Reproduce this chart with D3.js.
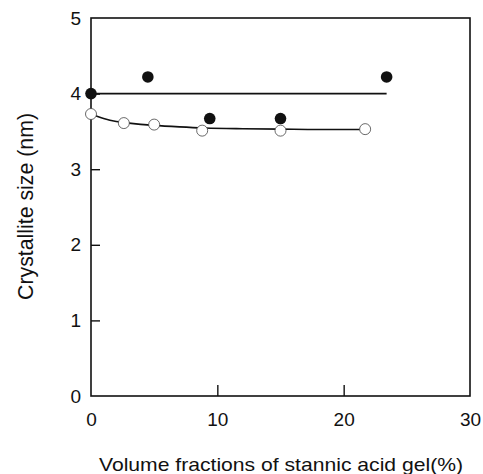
<!DOCTYPE html>
<html><head><meta charset="utf-8">
<script src="https://cdn.jsdelivr.net/npm/d3@7"></script>
<style>body{margin:0;background:#fff}svg{display:block}text{font-family:"Liberation Sans",Arial,sans-serif;fill:#111}</style>
</head><body>
<svg id="c" width="483" height="474"></svg>
<script>
const filledX = [0, 4.5, 9.4, 15, 23.4];
const filledY = [4.0, 4.22, 3.67, 3.67, 4.22];
const filledFitX = [0, 23.4];
const filledFitY = [4.0, 4.0];
const openX = [0, 2.6, 5.0, 8.8, 15.0, 21.7];
const openY = [3.73, 3.61, 3.59, 3.51, 3.51, 3.53];
const openFitX = [0, 1, 2, 3, 5, 7, 9, 12, 15, 18, 21.7];
const openFitY = [3.73, 3.67, 3.63, 3.61, 3.58, 3.56, 3.545, 3.535, 3.53, 3.525, 3.525];
const xTicks = [0, 10, 20, 30];
const yTicks = [0, 1, 2, 3, 4, 5];

const svg = d3.select("#c");
const L = 91, R = 470, T = 18, B = 396;
const x = d3.scaleLinear().domain([0, 30]).range([L, R]);
const y = d3.scaleLinear().domain([0, 5]).range([B, T]);

svg.append("rect").attr("x", L).attr("y", T).attr("width", R - L).attr("height", B - T)
  .attr("fill", "none").attr("stroke", "#111").attr("stroke-width", 1.6);

const xa = svg.append("g").attr("transform", `translate(0,${B})`)
  .call(d3.axisBottom(x).tickValues(xTicks).tickSize(-11).tickPadding(17).tickFormat(d3.format("d")));
const ya = svg.append("g").attr("transform", `translate(${L},0)`)
  .call(d3.axisLeft(y).tickValues(yTicks).tickSize(-9).tickPadding(10).tickFormat(d3.format("d")));
[xa, ya].forEach(g => {
  g.select(".domain").remove();
  g.selectAll(".tick line").attr("stroke", "#111").attr("stroke-width", 1.4);
  g.selectAll(".tick text").style("font-size", "19px").attr("fill", "#111");
});
xa.selectAll(".tick line").filter(d => d === 0 || d === 30).remove();
ya.selectAll(".tick line").filter(d => d === 0 || d === 5).remove();

const line = d3.line().x(d => x(d[0])).y(d => y(d[1])).curve(d3.curveMonotoneX);
svg.append("path").datum(filledFitX.map((v, i) => [v, filledFitY[i]]))
  .attr("d", line).attr("fill", "none").attr("stroke", "#111").attr("stroke-width", 1.6);
svg.append("path").datum(openFitX.map((v, i) => [v, openFitY[i]]))
  .attr("d", line).attr("fill", "none").attr("stroke", "#111").attr("stroke-width", 1.6);

svg.append("g").selectAll("circle").data(openX.map((v, i) => [v, openY[i]])).join("circle")
  .attr("cx", d => x(d[0])).attr("cy", d => y(d[1])).attr("r", 5.5)
  .attr("fill", "#fff").attr("stroke", "#444").attr("stroke-width", 0.8);
svg.append("g").selectAll("circle").data(filledX.map((v, i) => [v, filledY[i]])).join("circle")
  .attr("cx", d => x(d[0])).attr("cy", d => y(d[1])).attr("r", 5.8)
  .attr("fill", "#111");

svg.append("text").attr("x", 99).attr("y", 471)
  .attr("textLength", 364).attr("lengthAdjust", "spacingAndGlyphs")
  .style("font-size", "19px").text("Volume fractions of stannic acid gel(%)");
svg.append("text").attr("transform", `translate(33,300) rotate(-90)`)
  .attr("textLength", 187).attr("lengthAdjust", "spacingAndGlyphs")
  .style("font-size", "22px").text("Crystallite size (nm)");
</script>
</body></html>
